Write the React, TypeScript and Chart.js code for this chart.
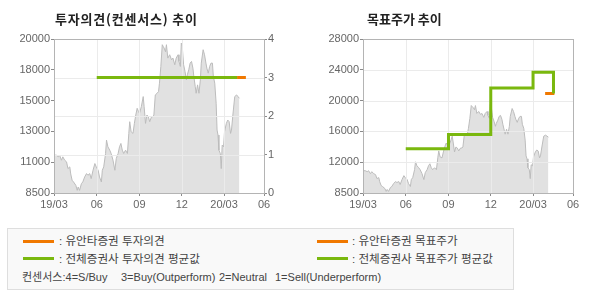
import React, { useEffect, useRef } from "react";
import { Chart, registerables } from "chart.js";

Chart.register(...registerables);

// ---- data ----
const xTickDays = [0, 92, 184, 275, 366, 452];
const xTickLabels = ["19/03", "06", "09", "12", "20/03", "06"];

const priceDays = [
  0, 5, 9, 12, 16, 19, 23, 27, 30, 34, 36, 39, 42, 47, 50, 52, 55, 59, 62, 66,
  70, 73, 77, 80, 84, 88, 91, 95, 98, 102, 104, 107, 111, 113, 116, 120, 123, 127, 131, 134,
  138, 141, 144, 147, 150, 154, 158, 161, 163, 166, 170, 173, 176, 179, 182, 184, 188, 192, 194, 197,
  200, 203, 206, 210, 213, 215, 218, 222, 225, 227, 230, 233, 235, 237, 240, 242, 245, 249, 253, 256,
  260, 263, 267, 269, 272, 274, 276, 279, 282, 285, 287, 290, 293, 296, 299, 301, 304, 306, 309, 312,
  315, 317, 321, 324, 327, 329, 332, 335, 338, 341, 343, 346, 349, 351, 353, 355, 358, 360, 362, 365,
  367, 371, 374, 377, 380, 382, 385, 389, 393, 396, 399,
];
const priceValues = [
  11325, 11325, 11200, 11325, 10950, 11200, 10950, 10825, 10325, 10450, 9925, 9450, 9325, 9075, 8700, 8950, 8700, 9200, 9325, 9700,
  9950, 9825, 9950, 9575, 10200, 10700, 10450, 10200, 9700, 9325, 10200, 10450, 11450, 12450, 11950, 11700, 11450, 10950, 10200, 11075,
  11450, 11950, 12200, 11700, 11450, 11700, 11450, 12950, 13825, 13075, 12950, 13700, 14325, 14825, 14575, 14450, 14950, 15700, 14950, 13700,
  14325, 14200, 13825, 14200, 14200, 14325, 15825, 15950, 16075, 16700, 17950, 19575, 19450, 19325, 19050, 19575, 18575, 18825, 18450, 18575,
  18075, 18575, 18825, 18325, 17950, 19700, 19450, 18075, 17575, 16950, 17325, 17700, 18200, 18325, 17825, 17200, 16450, 15950, 16575, 15950,
  16950, 18200, 19200, 18825, 18200, 17825, 17450, 17950, 18200, 18200, 17200, 16700, 15200, 13200, 12825, 11700, 11450, 10325, 12075, 11950,
  13075, 13700, 13950, 13825, 12950, 13200, 14325, 15700, 15825, 15700, 15575,
];

const opinionTickValues = [0, 1, 2, 3, 4];
const leftPriceTickValues = [8500, 10800, 13100, 15400, 17700, 20000];
const leftPriceTickLabels = ["8500", "11000", "13000", "15000", "18000", "20000"];
const rightPriceTickValues = [8500, 12400, 16300, 20200, 24100, 28000];
const rightPriceTickLabels = ["8500", "12000", "16000", "20000", "24000", "28000"];

const avgOpinionDays = [92, 394];
const avgOpinionValues = [3, 3];
const firmOpinionDays = [394, 413];
const firmOpinionValues = [3, 3];

const avgTargetDays = [92, 184, 275, 366, 410];
const avgTargetValues = [14100, 15900, 21800, 23800, 21100];
const firmTargetDays = [392, 412];
const firmTargetValues = [21100, 21100];

// ---- styles ----
const ORANGE = "#F07800";
const GREEN = "#7AB80E";
const GRID = "#ebebeb";
const BORDER = "#b4b4b4";
const TICKMARK = "#8a8a8a";
const LABEL = "#666666";
const AXIS_FONT = { family: "'Liberation Sans', Arial, sans-serif", size: 11 };

const pts = (xs: number[], ys: number[]) => xs.map((x, i) => ({ x, y: ys[i] }));

function makeFramePlugin(gridAxisId: string, priceIndex: number) {
  return {
    id: "frame_" + gridAxisId,
    afterDatasetDraw(chart: any, args: any) {
      if (args.index !== priceIndex) return;
      const { ctx, chartArea: a } = chart;
      const ys = chart.scales[gridAxisId];
      const xs = chart.scales.x;
      ctx.save();
      ctx.strokeStyle = GRID;
      ctx.lineWidth = 1;
      ctx.beginPath();
      ys.ticks.forEach((t: any) => {
        const y = Math.round(ys.getPixelForValue(t.value)) + 0.5;
        ctx.moveTo(a.left, y);
        ctx.lineTo(a.right, y);
      });
      xs.ticks.forEach((t: any) => {
        const x = Math.round(xs.getPixelForValue(t.value)) + 0.5;
        ctx.moveTo(x, a.top);
        ctx.lineTo(x, a.bottom);
      });
      ctx.stroke();
      ctx.restore();
    },
    afterDatasetsDraw(chart: any) {
      const { ctx, chartArea: a } = chart;
      ctx.save();
      ctx.strokeStyle = BORDER;
      ctx.lineWidth = 1;
      ctx.strokeRect(
        Math.round(a.left) + 0.5,
        Math.round(a.top) + 0.5,
        Math.round(a.right) - Math.round(a.left),
        Math.round(a.bottom) - Math.round(a.top)
      );
      ctx.restore();
    },
  };
}

function xScale() {
  return {
    type: "linear",
    min: 0,
    max: xTickDays[xTickDays.length - 1],
    afterBuildTicks: (s: any) => {
      s.ticks = xTickDays.map((v) => ({ value: v }));
    },
    afterFit: (s: any) => {
      s.height = 27;
    },
    border: { display: false },
    grid: { drawOnChartArea: false, drawTicks: true, tickLength: 3, tickColor: TICKMARK },
    ticks: {
      autoSkip: false,
      maxRotation: 0,
      padding: 2,
      color: LABEL,
      font: AXIS_FONT,
      callback: (_v: any, i: number) => xTickLabels[i],
    },
  };
}

function priceScale(values: number[], labels: string[], width: number) {
  return {
    type: "linear",
    position: "left",
    min: values[0],
    max: values[values.length - 1],
    afterBuildTicks: (s: any) => {
      s.ticks = values.map((v) => ({ value: v }));
    },
    afterFit: (s: any) => {
      s.width = width;
    },
    border: { display: false },
    grid: { drawOnChartArea: false, drawTicks: true, tickLength: 3, tickColor: TICKMARK },
    ticks: {
      padding: 1,
      color: LABEL,
      font: AXIS_FONT,
      callback: (_v: any, i: number) => labels[i],
    },
  };
}

function priceDataset(axis: string) {
  return {
    label: "price",
    data: pts(priceDays, priceValues),
    yAxisID: axis,
    borderColor: "#bcbcbc",
    borderWidth: 1,
    backgroundColor: "#e1e1e1",
    fill: "start",
    pointRadius: 0,
    tension: 0,
    order: 10,
  };
}

function lineDataset(xs: number[], ys: number[], color: string, axis: string, stepped: any = false) {
  return {
    data: pts(xs, ys),
    yAxisID: axis,
    borderColor: color,
    backgroundColor: color,
    borderWidth: 3,
    pointRadius: 0,
    fill: false,
    stepped,
    borderJoinStyle: "miter",
    borderCapStyle: "butt",
    order: 1,
  };
}

const baseOptions = {
  responsive: false,
  animation: false,
  events: [],
  plugins: { legend: { display: false }, tooltip: { enabled: false } },
};

export default function App() {
  const leftRef = useRef<HTMLCanvasElement>(null);
  const rightRef = useRef<HTMLCanvasElement>(null);

  useEffect(() => {
    const left = new Chart(leftRef.current as HTMLCanvasElement, {
      type: "line",
      data: {
        datasets: [
          priceDataset("y") as any,
          lineDataset(avgOpinionDays, avgOpinionValues, GREEN, "y2") as any,
          lineDataset(firmOpinionDays, firmOpinionValues, ORANGE, "y2") as any,
        ],
      },
      options: {
        ...baseOptions,
        layout: { padding: { top: 39, left: 0, right: 0, bottom: 0 } },
        scales: {
          x: xScale() as any,
          y: priceScale(leftPriceTickValues, leftPriceTickLabels, 54) as any,
          y2: {
            type: "linear",
            position: "right",
            min: 0,
            max: 4,
            afterBuildTicks: (s: any) => {
              s.ticks = opinionTickValues.map((v) => ({ value: v }));
            },
            afterFit: (s: any) => {
              s.width = 36;
            },
            border: { display: false },
            grid: { drawOnChartArea: false, drawTicks: true, tickLength: 3, tickColor: TICKMARK },
            ticks: { padding: 1, color: LABEL, font: AXIS_FONT, callback: (v: any) => String(v) },
          } as any,
        },
      } as any,
      plugins: [makeFramePlugin("y2", 0)],
    });

    const right = new Chart(rightRef.current as HTMLCanvasElement, {
      type: "line",
      data: {
        datasets: [
          priceDataset("y") as any,
          lineDataset(avgTargetDays, avgTargetValues, GREEN, "y", "before") as any,
          lineDataset(firmTargetDays, firmTargetValues, ORANGE, "y") as any,
        ],
      },
      options: {
        ...baseOptions,
        layout: { padding: { top: 39, left: 0, right: 17, bottom: 0 } },
        scales: {
          x: xScale() as any,
          y: priceScale(rightPriceTickValues, rightPriceTickLabels, 73) as any,
        },
      } as any,
      plugins: [makeFramePlugin("y", 0)],
    });

    return () => {
      left.destroy();
      right.destroy();
    };
  }, []);

  const hangul = "'Noto Sans CJK KR', sans-serif";
  const legendText: React.CSSProperties = {
    position: "absolute",
    fontFamily: "'Liberation Sans', 'Noto Sans CJK KR', sans-serif",
    fontSize: 11.6,
    lineHeight: "14px",
    color: "#444",
    whiteSpace: "pre",
  };
  const noteText: React.CSSProperties = { ...legendText, fontSize: 11 };
  const swatch = (x: number, y: number, c: string): React.CSSProperties => ({
    position: "absolute",
    left: x,
    top: y - 1.5,
    width: 31,
    height: 3,
    background: c,
  });
  const titleStyle: React.CSSProperties = {
    position: "absolute",
    top: 11,
    fontFamily: hangul,
    fontWeight: 700,
    fontSize: 13,
    lineHeight: "16px",
    color: "#222",
    whiteSpace: "pre",
  };

  return (
    <div style={{ position: "absolute", left: 0, top: 0, width: 590, height: 300, background: "#fff", overflow: "hidden" }}>
      <canvas ref={leftRef} width={300} height={220} style={{ position: "absolute", left: 0, top: 0, width: 300, height: 220 }} />
      <canvas ref={rightRef} width={300} height={220} style={{ position: "absolute", left: 290, top: 0, width: 300, height: 220 }} />
      <div style={{ ...titleStyle, left: 55, letterSpacing: "0.8px" }}>투자의견(컨센서스) 추이</div>
      <div style={{ ...titleStyle, left: 367 }}>목표주가 추이</div>

      <div
        style={{
          position: "absolute",
          left: 7,
          top: 228,
          width: 507,
          height: 62,
          boxSizing: "border-box",
          border: "1px solid #dedede",
          background: "#f9f9f9",
        }}
      />
      <div style={swatch(23, 241, ORANGE)} />
      <div style={swatch(23, 258.5, GREEN)} />
      <div style={swatch(317, 241, ORANGE)} />
      <div style={swatch(317, 258.5, GREEN)} />
      <div style={{ ...legendText, left: 59, top: 234 }}>: 유안타증권 투자의견</div>
      <div style={{ ...legendText, left: 59, top: 251.5 }}>: 전체증권사 투자의견 평균값</div>
      <div style={{ ...legendText, left: 352, top: 234 }}>: 유안타증권 목표주가</div>
      <div style={{ ...legendText, left: 352, top: 251.5 }}>: 전체증권사 목표주가 평균값</div>
      <div style={{ ...noteText, left: 22, top: 270 }}>컨센서스:4=S/Buy</div>
      <div style={{ ...noteText, left: 121, top: 270 }}>3=Buy(Outperform)</div>
      <div style={{ ...noteText, left: 219, top: 270 }}>2=Neutral</div>
      <div style={{ ...noteText, left: 275, top: 270 }}>1=Sell(Underperform)</div>
    </div>
  );
}
